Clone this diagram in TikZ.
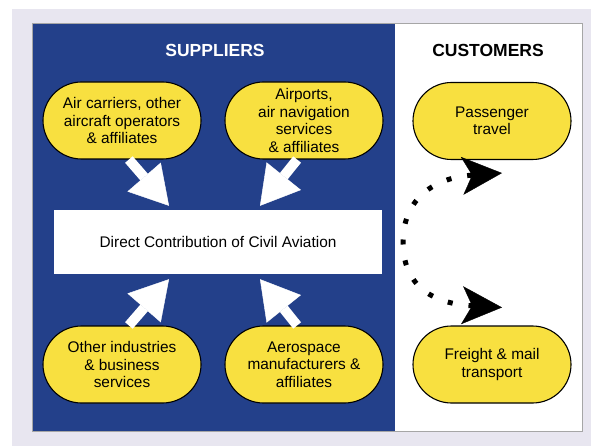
\documentclass[tikz,border=0pt]{standalone}
\usepackage{fontspec}
\setsansfont{Liberation Sans}
\usepackage{xcolor}
\usepackage{tikz}
\usetikzlibrary{calc}
\usetikzlibrary{shapes.misc, arrows.meta, positioning}

\definecolor{panelgray}{RGB}{232,230,240}
\definecolor{supplyblue}{RGB}{35,64,138}
\definecolor{bubbleyellow}{RGB}{248,224,64}

\begin{document}
\begin{tikzpicture}[x=1pt,y=-1pt,
                    feeder/.style={rounded rectangle,draw=black,line width=1.1pt,fill=bubbleyellow,
                                   minimum width=162pt,minimum height=77pt,inner sep=2pt,align=center,
                                   font=\sffamily\fontsize{15.4}{17.5}\selectfont},
                    heading/.style={font=\sffamily\bfseries\fontsize{17.5}{20}\selectfont},
                    supply/.style={draw=white,line width=10pt,-{Triangle[length=38pt,width=44pt,line width=0.4pt]}},
                    route/.style={draw=black,line width=5pt,dash pattern=on 5pt off 16pt,dash phase=2.5pt,
                                  -{Stealth[length=40pt,width=38pt,inset=10pt,line width=0.4pt]}}]
\useasboundingbox (0,0) rectangle (591,446);
\fill[white] (0,0) rectangle (591,446);
\fill[panelgray] (12,9) rectangle (591,446);

% two panels
\fill[white] (395,23) rectangle (582,431);
\fill[supplyblue] (32,23) rectangle (395,431);
\draw[gray!70,line width=0.6pt] (32,23) rectangle (582,431);

\node[heading,text=white] (SuppliersLabel) at (215,50) {SUPPLIERS};
\node[heading,text=black] (CustomersLabel) at (488,50) {CUSTOMERS};

\node[feeder] (Carriers) at (122,120.5) {Air carriers, other\\aircraft operators\\\& affiliates};
\node[feeder] (Airports) at (304,120.5) {Airports,\\air navigation\\services\\\& affiliates};
\node[feeder] (Industries) at (122,364.5) {Other industries\\\& business\\services};
\node[feeder] (Aerospace) at (304,364.5) {Aerospace\\manufacturers \&\\affiliates};

\node[feeder] (Passenger) at (492,121) {Passenger\\travel};
\node[feeder] (Freight) at (492,364.5) {Freight \& mail\\transport};

\node[fill=white,minimum width=328pt,minimum height=64pt,
      font=\sffamily\fontsize{15.4}{17.5}\selectfont] (Direct) at (218,242) {Direct Contribution of Civil Aviation};

\draw[supply] (Carriers.-80) -- ($(Direct.north)+(-49,-4)$);
\draw[supply] (Airports.-100) -- ($(Direct.north)+(42,-4)$);
\draw[supply] (Industries.80) -- ($(Direct.south)+(-49,5)$);
\draw[supply] (Aerospace.100) -- ($(Direct.south)+(42,5)$);

\coordinate (Fork) at (403,242);
\coordinate (PassTip) at ($(Passenger.south)+(10,13)$);
\coordinate (FreightTip) at ($(Freight.north)+(10,-18)$);
\draw[route] (Fork) .. controls +(0,-40) and +(-72,5) .. (PassTip);
\draw[route] (Fork) .. controls +(0,42) and +(-72,-4) .. (FreightTip);

\end{tikzpicture}
\end{document}
